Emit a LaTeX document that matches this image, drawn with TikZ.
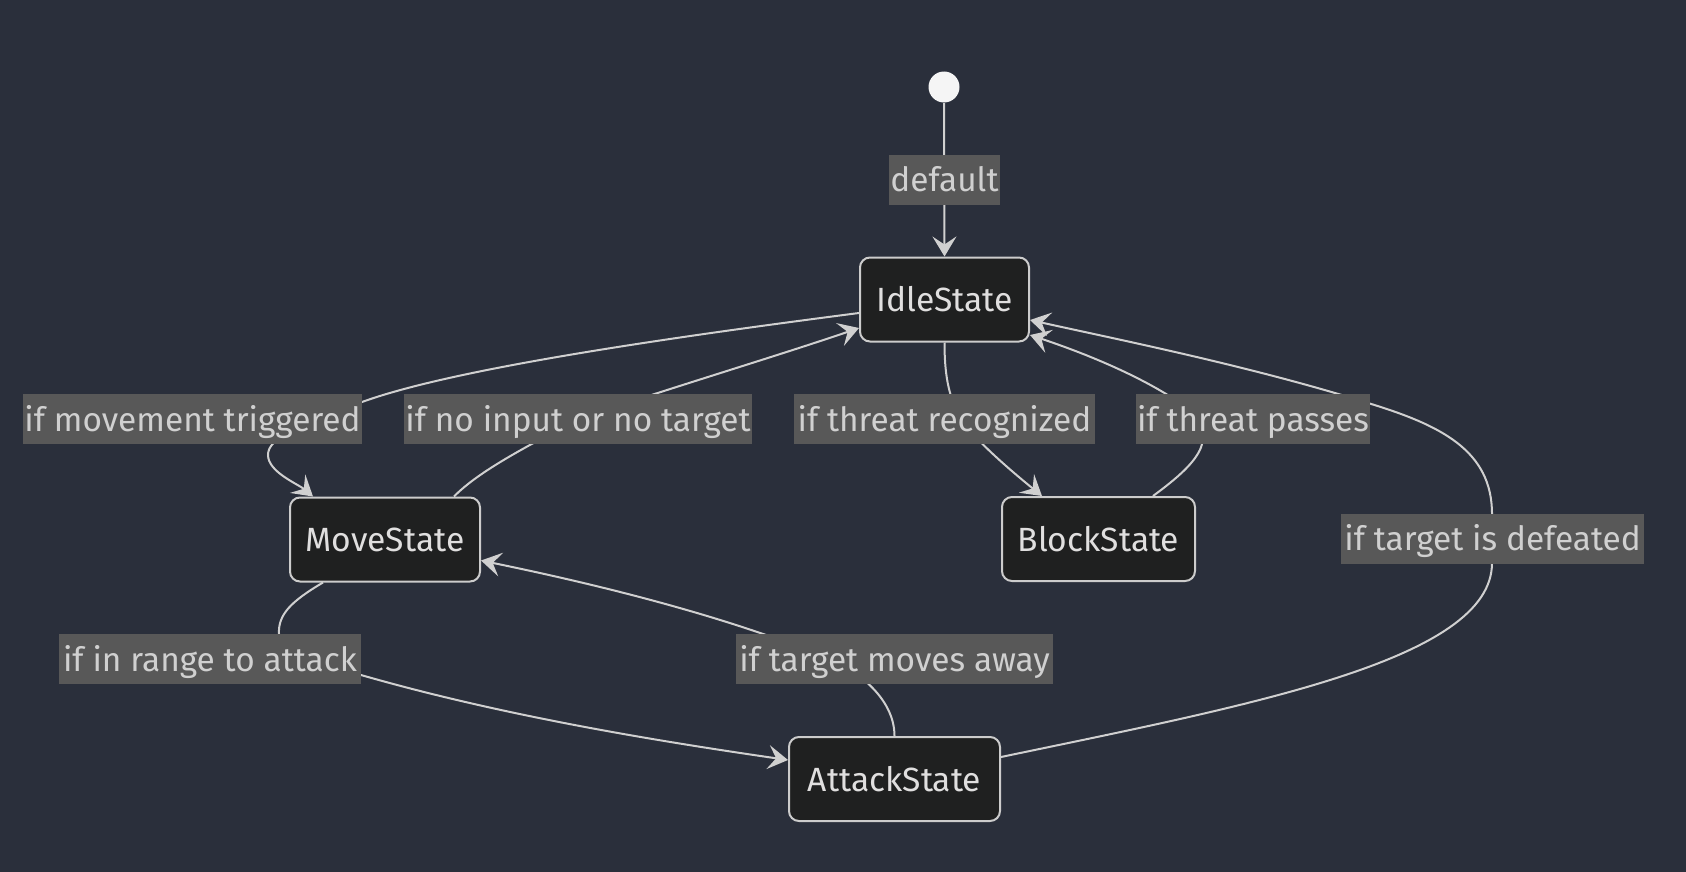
\documentclass[tikz,border=0pt]{standalone}
\usepackage{fontspec}
\setmainfont{Fira Sans}
\usetikzlibrary{arrows.meta,calc}
\definecolor{bgc}{HTML}{2A2F3B}
\definecolor{nodefill}{HTML}{1F2020}
\definecolor{nodeline}{HTML}{CCCCCC}
\definecolor{nodetext}{HTML}{E0DFDF}
\definecolor{lblfill}{HTML}{585858}
\definecolor{lbltext}{HTML}{D0D0D0}
\definecolor{edgec}{HTML}{D0D0D0}
\tikzset{
  statebox/.style={draw=nodeline, line width=1pt, fill=nodefill, rounded corners=5pt,
    text=nodetext, minimum height=42pt, inner sep=0pt, font=\fontsize{16.8}{19}\selectfont},
  startdot/.style={circle, fill=white!96!black, draw=none, minimum size=15.5pt, inner sep=0pt},
  lbl/.style={fill=lblfill, text=lbltext, minimum height=25pt, inner xsep=0.5pt, inner ysep=0pt,
    text height=14pt, text depth=2pt, font=\fontsize{16.7}{19}\selectfont},
  edge/.style={draw=edgec, line width=1pt, -{Stealth[length=10pt,width=12pt,inset=4pt]}},
}
\begin{document}
\begin{tikzpicture}[x=0.5pt,y=-0.5pt]
\fill[bgc] (0,0) rectangle (1686,872);
\useasboundingbox (0,0) rectangle (1686,872);
% states
\node[startdot] (start) at (944,87) {};
\node[statebox, minimum width=84.5pt] (idle) at (944.5,299.5) {IdleState};
\node[statebox, minimum width=95pt] (move) at (385,539.5) {MoveState};
\node[statebox, minimum width=96.5pt] (block) at (1098.5,539) {BlockState};
\node[statebox, minimum width=105.5pt] (attack) at (894.5,779) {AttackState};
% edges
\draw[edge] (start) -- (idle.north);
% Idle -> Move
\draw[edge] ($(idle.west)+(0,13.5)$) .. controls (650,340) and (450,370) .. (362,402)
   .. controls (290,428) and (268,440) .. (268,455)
   .. controls (268,472) and (298,484) .. ($(move.north west)+(24,0)$);
% Move -> Idle
\draw[edge] ($(move.north)+(69,0)$) .. controls (480,470) and (530,445) .. (578,419)
   .. controls (680,385) and (780,355) .. ($(idle.west)+(0,28.5)$);
% Idle -> Block
\draw[edge] (idle.south) .. controls (944.5,380) and (950,400) .. (962,420)
   .. controls (975,440) and (1010,470) .. ($(block.north west)+(41,0)$);
% Block -> Idle
\draw[edge] ($(block.north)+(54.5,0)$) .. controls (1195,465) and (1220,440) .. (1190,410)
   .. controls (1150,380) and (1090,355) .. ($(idle.east)+(0,35.5)$);
% Attack -> Idle
\draw[edge] ($(attack.east)+(0,-22)$) .. controls (1250,705) and (1492,660) .. (1492,563)
   -- (1492,514) .. controls (1492,450) and (1440,425) .. (1368,403)
   .. controls (1250,366) and (1120,340) .. ($(idle.east)+(0,20.5)$);
% Move -> Attack
\draw[edge] ($(move.south)+(-62,0)$) .. controls (290,602) and (278,615) .. (279,634)
   .. controls (280,650) and (320,665) .. (361,675)
   .. controls (500,715) and (650,740) .. ($(attack.west)+(0,-19)$);
% Attack -> Move
\draw[edge] (attack.north) .. controls (894.5,700) and (860,670) .. (820,655)
   .. controls (720,615) and (600,585) .. ($(move.east)+(0,21)$);
% labels
\node[lbl, minimum width=54.5pt] (l0) at (944.5,179.5) {default};
\node[lbl, minimum width=169.5pt] (l1) at (192.5,419) {if movement triggered};
\node[lbl, minimum width=173.75pt] (l2) at (578,419) {if no input or no target};
\node[lbl, minimum width=150.3pt] (l3) at (944.5,419) {if threat recognized};
\node[lbl, minimum width=115.8pt] (l4) at (1253,419) {if threat passes};
\node[lbl, minimum width=151.8pt] (l5) at (1492.6,538.5) {if target is defeated};
\node[lbl, minimum width=151pt] (l6) at (210,659) {if in range to attack};
\node[lbl, minimum width=158.5pt] (l7) at (894.5,659) {if target moves away};
\end{tikzpicture}
\end{document}
